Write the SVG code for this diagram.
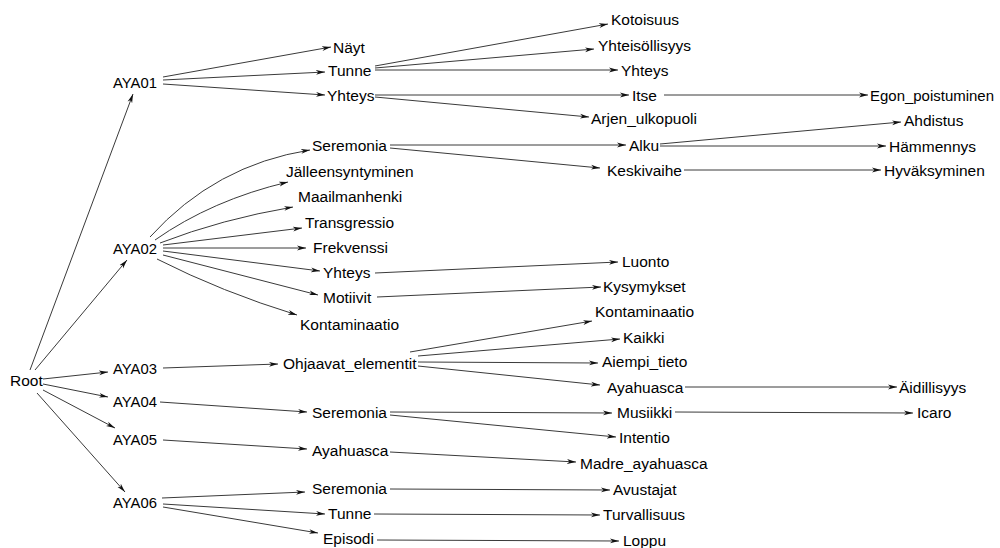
<svg xmlns="http://www.w3.org/2000/svg" width="1000" height="548" viewBox="0 0 1000 548">
<defs>
<marker id="arr" markerUnits="userSpaceOnUse" markerWidth="9" markerHeight="6" refX="9" refY="3" orient="auto">
<path d="M0,0.6 L9,3 L0,5.4 L2.5,3 z" fill="#111"/>
</marker>
<style>
text{font-family:"Liberation Sans",Arial,Helvetica,sans-serif;font-size:15.5px;fill:#000}
.e path,.e line{stroke:#3a3a3a;stroke-width:1;fill:none;marker-end:url(#arr)}
</style>
</defs>
<rect width="1000" height="548" fill="#fff"/>
<g id="edges" class="e">
<line x1="30" y1="370" x2="133" y2="94"/>
<line x1="35" y1="370" x2="127" y2="260"/>
<line x1="43" y1="379" x2="108" y2="372"/>
<line x1="43" y1="384" x2="108" y2="397"/>
<line x1="43" y1="390" x2="115" y2="428"/>
<line x1="37" y1="393" x2="125" y2="492"/>
<line x1="163" y1="77" x2="331" y2="47"/>
<line x1="163" y1="80" x2="325" y2="72"/>
<line x1="163" y1="84" x2="325" y2="95"/>
<line x1="375" y1="66" x2="608" y2="24"/>
<line x1="375" y1="68" x2="594" y2="49"/>
<line x1="375" y1="70" x2="618" y2="70"/>
<line x1="375" y1="95" x2="629" y2="95"/>
<line x1="375" y1="97" x2="589" y2="117"/>
<line x1="664" y1="95" x2="868" y2="95"/>
<line x1="390" y1="145" x2="626" y2="145"/>
<line x1="390" y1="148" x2="600" y2="168"/>
<line x1="660" y1="144" x2="901" y2="122"/>
<line x1="660" y1="146" x2="886" y2="146"/>
<line x1="684" y1="170" x2="881" y2="170"/>
<path d="M150,237 Q215,165 310,150"/>
<path d="M155,240 Q212,200 288,182"/>
<path d="M160,243 Q222,219 293,207"/>
<line x1="163" y1="245" x2="302" y2="228"/>
<line x1="163" y1="248" x2="306" y2="248"/>
<line x1="163" y1="251" x2="320" y2="271"/>
<line x1="163" y1="255" x2="318" y2="295"/>
<path d="M157,259 Q222,292 297,315"/>
<line x1="375" y1="273" x2="618" y2="262"/>
<line x1="377" y1="297" x2="601" y2="287"/>
<line x1="163" y1="368" x2="278" y2="364"/>
<line x1="410" y1="352" x2="592" y2="321"/>
<line x1="418" y1="356" x2="620" y2="339"/>
<line x1="418" y1="362" x2="598" y2="363"/>
<line x1="418" y1="366" x2="600" y2="385"/>
<line x1="685" y1="387" x2="897" y2="387"/>
<line x1="160" y1="402" x2="307" y2="412"/>
<line x1="390" y1="412" x2="612" y2="413"/>
<line x1="390" y1="415" x2="616" y2="437"/>
<line x1="675" y1="412" x2="913" y2="413"/>
<line x1="163" y1="440" x2="307" y2="449"/>
<line x1="390" y1="452" x2="576" y2="462"/>
<line x1="162" y1="498" x2="305" y2="492"/>
<line x1="163" y1="504" x2="325" y2="514"/>
<line x1="163" y1="507" x2="318" y2="533"/>
<line x1="390" y1="489" x2="610" y2="490"/>
<line x1="374" y1="514" x2="600" y2="515"/>
<line x1="377" y1="540" x2="619" y2="541"/>
</g>
<g id="root"><text x="10" y="386">Root</text></g>
<g id="aya01"><text x="113" y="88" textLength="44" lengthAdjust="spacingAndGlyphs">AYA01</text></g>
<g id="aya02"><text x="113" y="254" textLength="44" lengthAdjust="spacingAndGlyphs">AYA02</text></g>
<g id="aya03"><text x="113" y="374" textLength="44" lengthAdjust="spacingAndGlyphs">AYA03</text></g>
<g id="aya04"><text x="113" y="407" textLength="44" lengthAdjust="spacingAndGlyphs">AYA04</text></g>
<g id="aya05"><text x="113" y="445" textLength="44" lengthAdjust="spacingAndGlyphs">AYA05</text></g>
<g id="aya06"><text x="113" y="508" textLength="44" lengthAdjust="spacingAndGlyphs">AYA06</text></g>
<g id="n_nayt"><text x="333" y="53">Näyt</text></g>
<g id="n_tunne1"><text x="328" y="76">Tunne</text></g>
<g id="n_yhteys1"><text x="327" y="101">Yhteys</text></g>
<g id="n_seremonia2"><text x="312" y="151">Seremonia</text></g>
<g id="n_jalleen"><text x="286" y="177">Jälleensyntyminen</text></g>
<g id="n_maailman"><text x="298" y="202">Maailmanhenki</text></g>
<g id="n_transg"><text x="305" y="228">Transgressio</text></g>
<g id="n_frekv"><text x="313" y="253">Frekvenssi</text></g>
<g id="n_yhteys2"><text x="323" y="278">Yhteys</text></g>
<g id="n_motiivit"><text x="323" y="303">Motiivit</text></g>
<g id="n_kontam2"><text x="300" y="330">Kontaminaatio</text></g>
<g id="n_ohjaavat"><text x="283" y="369">Ohjaavat_elementit</text></g>
<g id="n_seremonia4"><text x="312" y="418">Seremonia</text></g>
<g id="n_ayahuasca5"><text x="312" y="456">Ayahuasca</text></g>
<g id="n_seremonia6"><text x="312" y="494">Seremonia</text></g>
<g id="n_tunne6"><text x="328" y="519">Tunne</text></g>
<g id="n_episodi"><text x="323" y="544">Episodi</text></g>
<g id="n_kotoisuus"><text x="611" y="25">Kotoisuus</text></g>
<g id="n_yhteisollisyys"><text x="598" y="51">Yhteisöllisyys</text></g>
<g id="n_yhteys3"><text x="621" y="76">Yhteys</text></g>
<g id="n_itse"><text x="632" y="101">Itse</text></g>
<g id="n_arjen"><text x="591" y="124">Arjen_ulkopuoli</text></g>
<g id="n_alku"><text x="629" y="151">Alku</text></g>
<g id="n_keskivaihe"><text x="607" y="176">Keskivaihe</text></g>
<g id="n_luonto"><text x="622" y="267">Luonto</text></g>
<g id="n_kysymykset"><text x="603" y="292">Kysymykset</text></g>
<g id="n_kontam3"><text x="595" y="317">Kontaminaatio</text></g>
<g id="n_kaikki"><text x="623" y="343">Kaikki</text></g>
<g id="n_aiempi"><text x="602" y="367">Aiempi_tieto</text></g>
<g id="n_ayahuasca3"><text x="607" y="393">Ayahuasca</text></g>
<g id="n_musiikki"><text x="617" y="418">Musiikki</text></g>
<g id="n_intentio"><text x="619" y="443">Intentio</text></g>
<g id="n_madre"><text x="580" y="469">Madre_ayahuasca</text></g>
<g id="n_avustajat"><text x="613" y="495">Avustajat</text></g>
<g id="n_turvallisuus"><text x="603" y="520">Turvallisuus</text></g>
<g id="n_loppu"><text x="623" y="546">Loppu</text></g>
<g id="n_egon"><text x="870" y="101" textLength="124" lengthAdjust="spacingAndGlyphs">Egon_poistuminen</text></g>
<g id="n_ahdistus"><text x="904" y="126">Ahdistus</text></g>
<g id="n_hammennys"><text x="889" y="152">Hämmennys</text></g>
<g id="n_hyvaksyminen"><text x="884" y="176">Hyväksyminen</text></g>
<g id="n_aidillisyys"><text x="899" y="393">Äidillisyys</text></g>
<g id="n_icaro"><text x="917" y="418">Icaro</text></g>
</svg>
